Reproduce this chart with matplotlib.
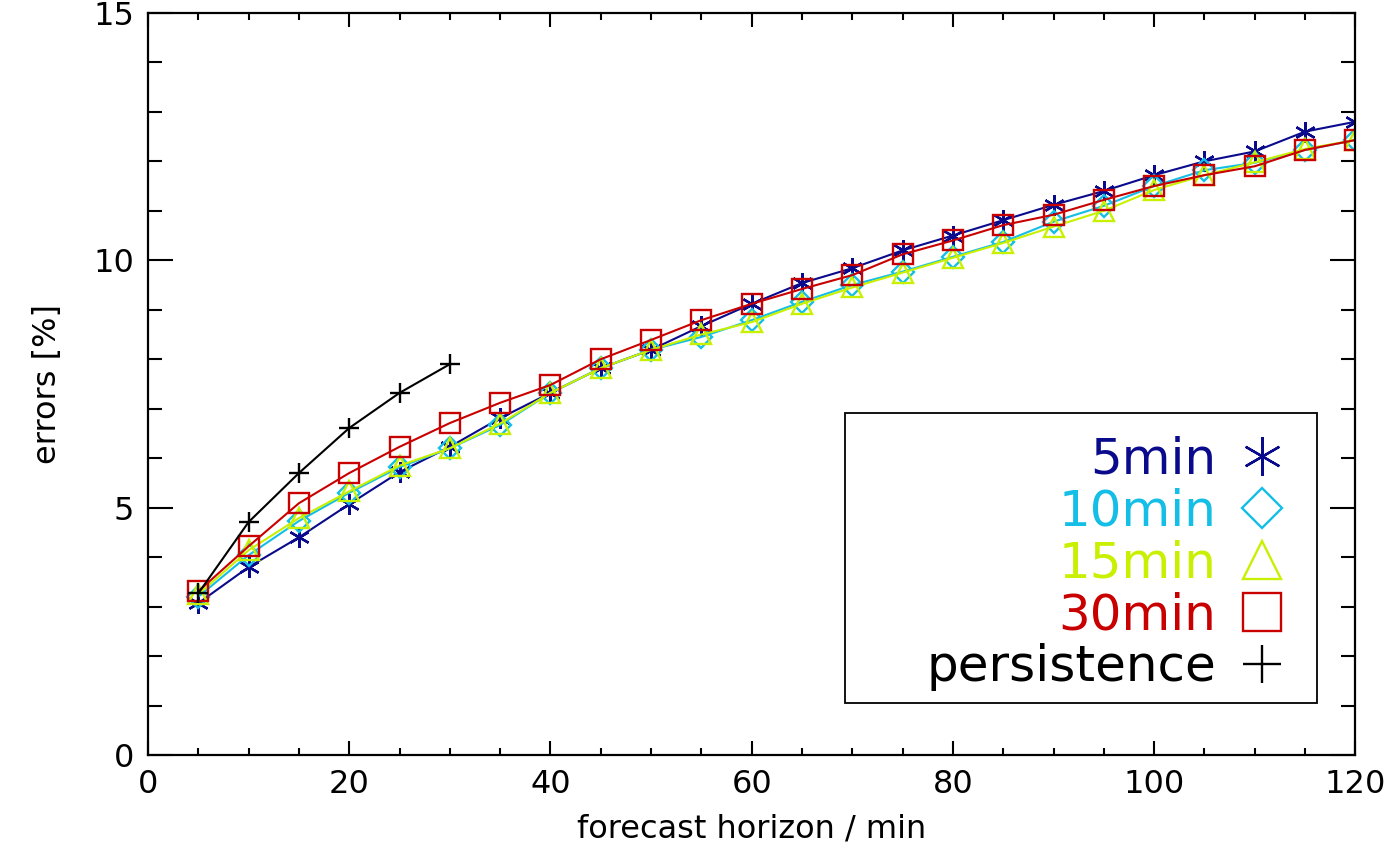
# Errores de pronostico frente al horizonte de pronostico
import numpy as np
import matplotlib.pyplot as plt
from matplotlib.lines import Line2D
from matplotlib.patches import Rectangle
from matplotlib.ticker import MultipleLocator

# horizontes de pronostico (min)
horizon = [5, 10, 15, 20, 25, 30, 35, 40, 45, 50, 55, 60, 65, 70, 75, 80,
           85, 90, 95, 100, 105, 110, 115, 120]

err_5min = [3.07, 3.80, 4.40, 5.07, 5.72, 6.23, 6.81, 7.32, 7.82, 8.19,
            8.67, 9.12, 9.54, 9.84, 10.20, 10.50, 10.81, 11.12, 11.40,
            11.72, 12.00, 12.20, 12.60, 12.80]
err_10min = [3.20, 4.04, 4.73, 5.30, 5.82, 6.20, 6.67, 7.32, 7.82, 8.19,
             8.45, 8.79, 9.16, 9.50, 9.77, 10.07, 10.37, 10.78, 11.10,
             11.50, 11.82, 11.97, 12.23, 12.43]
err_15min = [3.25, 4.14, 4.79, 5.33, 5.85, 6.20, 6.70, 7.32, 7.82, 8.19,
             8.50, 8.75, 9.12, 9.45, 9.75, 10.05, 10.35, 10.68, 11.00,
             11.42, 11.72, 11.98, 12.25, 12.43]
err_30min = [3.31, 4.22, 5.09, 5.70, 6.23, 6.71, 7.12, 7.48, 8.00, 8.39,
             8.79, 9.12, 9.42, 9.70, 10.12, 10.40, 10.71, 10.92, 11.22,
             11.50, 11.72, 11.90, 12.23, 12.43]

horizon_pers = [5, 10, 15, 20, 25, 30]
err_pers = [3.27, 4.71, 5.70, 6.61, 7.32, 7.90]

labels = ["5min", "10min", "15min", "30min", "persistence"]
colors = ["#0a0a8c", "#14bee6", "#c8f000", "#c80000", "black"]
markers = [(6, 2, 0), "D", "^", "s", "+"]

series = [
    (horizon, err_5min),
    (horizon, err_10min),
    (horizon, err_15min),
    (horizon, err_30min),
    (horizon_pers, err_pers),
]

plt.rcParams["font.family"] = "DejaVu Sans"

fig = plt.figure(figsize=(13.99, 8.59), dpi=100)
ax = fig.add_axes([0.1058, 0.121, 0.863, 0.864])

# dibujar cada serie
for (x, y), c, m in zip(series, colors, markers):
    ax.plot(
        x, y,
        color=c,
        linewidth=1.5,
        marker=m,
        markersize=15 if m != "D" else 11,
        markerfacecolor="none",
        markeredgecolor=c,
        markeredgewidth=1.7,
    )

# ejes estilo IDL
ax.set_xlim(0, 120)
ax.set_ylim(0, 15)
ax.xaxis.set_major_locator(MultipleLocator(20))
ax.xaxis.set_minor_locator(MultipleLocator(5))
ax.yaxis.set_major_locator(MultipleLocator(5))
ax.yaxis.set_minor_locator(MultipleLocator(1))

ax.tick_params(axis="both", which="both", direction="in",
               top=True, right=True, width=1.5, labelsize=23)
ax.tick_params(axis="x", which="major", length=10, pad=10)
ax.tick_params(axis="x", which="minor", length=5)
ax.tick_params(axis="y", which="major", length=18, pad=10)
ax.tick_params(axis="y", which="minor", length=10)

for s in ax.spines.values():
    s.set_linewidth(1.6)

ax.set_xlabel("forecast horizon / min", fontsize=23, labelpad=10)
ax.set_ylabel("errors [%]", fontsize=23, labelpad=22)

# marco de la leyenda
ax.add_patch(Rectangle(
    (0.577, 0.070), 0.391, 0.391,
    transform=ax.transAxes,
    facecolor="white",
    edgecolor="black",
    linewidth=1.3,
    zorder=4,
))

# leyenda con texto a la izquierda del simbolo
handles = [
    Line2D([], [], color=c, marker=m, linestyle="none",
           markersize=28 if m != "D" else 20, markerfacecolor="none",
           markeredgewidth=1.7)
    for c, m in zip(colors, markers)
]
leg = ax.legend(
    handles, labels,
    loc="lower right",
    bbox_to_anchor=(0.943, 0.086),
    borderaxespad=0,
    markerfirst=False,
    fontsize=36,
    labelcolor=colors,
    frameon=False,
    handlelength=1.0,
    handletextpad=0.4,
    labelspacing=0.08,
    borderpad=0,
)
leg.set_zorder(5)

plt.savefig("out.png", dpi=100)
